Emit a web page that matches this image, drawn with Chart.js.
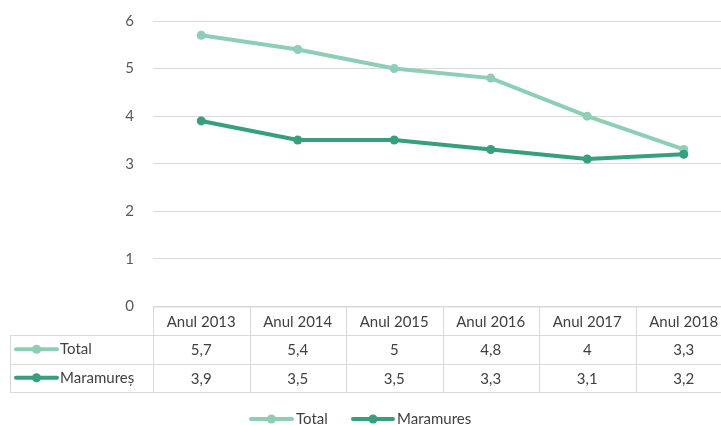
<!DOCTYPE html>
<html>
<head>
<meta charset="utf-8">
<script src="https://cdn.jsdelivr.net/npm/chart.js@4/dist/chart.umd.min.js"></script>
<style>
html,body{margin:0;padding:0;background:#fff;overflow:hidden;width:721px;height:425px;}
#wrap{width:740px;height:425px;}
</style>
</head>
<body>
<div id="wrap"><canvas id="c" width="740" height="425"></canvas></div>
<script>
const categories = ['Anul 2013','Anul 2014','Anul 2015','Anul 2016','Anul 2017','Anul 2018'];
const totalValues = [5.7, 5.4, 5, 4.8, 4, 3.3];
const maramuresValues = [3.9, 3.5, 3.5, 3.3, 3.1, 3.2];
const tableRowLabels = ['Total', 'Maramureș'];
const legendLabels = ['Total', 'Maramures'];
const yTickValues = [0, 1, 2, 3, 4, 5, 6];

const COL_TOTAL = '#8dcfb4';
const COL_MARA = '#35a07b';
const GRID = '#d9d9d9';
const TEXT = '#404040';
const FONT = 'Lato, "Open Sans", sans-serif';

function fmt(v){ return String(v).replace('.', ','); }

function drawMarker(ctx, x1, x2, y, color){
  ctx.save();
  ctx.strokeStyle = color; ctx.lineWidth = 4; ctx.lineCap = 'round';
  ctx.beginPath(); ctx.moveTo(x1, y); ctx.lineTo(x2, y); ctx.stroke();
  ctx.fillStyle = color;
  ctx.beginPath(); ctx.arc((x1 + x2) / 2, y, 4.5, 0, Math.PI * 2); ctx.fill();
  ctx.restore();
}

const tablePlugin = {
  id: 'dataTable',
  afterDraw(chart){
    const ctx = chart.ctx;
    const ca = chart.chartArea;
    const xs = chart.scales.x;
    const n = categories.length;
    const colW = (ca.right - ca.left) / n;
    const top = ca.bottom;
    const rowH = 28.5;
    const leftX = 10;
    const series = [
      {label: tableRowLabels[0], data: totalValues, color: COL_TOTAL},
      {label: tableRowLabels[1], data: maramuresValues, color: COL_MARA}
    ];
    ctx.save();
    ctx.strokeStyle = GRID; ctx.lineWidth = 1;
    ctx.beginPath();
    ctx.moveTo(ca.left, top + 0.5); ctx.lineTo(ca.right, top + 0.5);
    for (let r = 1; r <= 3; r++) {
      const y = Math.round(top + r * rowH) + 0.5;
      ctx.moveTo(leftX, y); ctx.lineTo(ca.right, y);
    }
    for (let i = 0; i <= n; i++) {
      const x = Math.round(ca.left + i * colW) + 0.5;
      ctx.moveTo(x, top); ctx.lineTo(x, top + 3 * rowH);
    }
    ctx.moveTo(leftX + 0.5, top + rowH); ctx.lineTo(leftX + 0.5, top + 3 * rowH);
    ctx.stroke();

    ctx.fillStyle = TEXT;
    ctx.font = '15px ' + FONT;
    ctx.textAlign = 'center'; ctx.textBaseline = 'middle';
    categories.forEach((c, i) => {
      ctx.fillText(c, xs.getPixelForValue(i), top + rowH / 2 + 1);
    });
    series.forEach((s, r) => {
      const yc = top + (r + 1.5) * rowH + 1;
      s.data.forEach((v, i) => {
        ctx.textAlign = 'center';
        ctx.fillText(fmt(v), xs.getPixelForValue(i), yc);
      });
      drawMarker(ctx, 16, 57, yc - 1, s.color);
      ctx.fillStyle = TEXT;
      ctx.textAlign = 'left';
      ctx.fillText(s.label, 60, yc - 1);
    });

    // bottom legend
    const ly = 419;
    drawMarker(ctx, 251, 292, ly, COL_TOTAL);
    ctx.fillStyle = TEXT; ctx.textAlign = 'left';
    ctx.fillText(legendLabels[0], 296, ly);
    drawMarker(ctx, 353, 393, ly, COL_MARA);
    ctx.fillStyle = TEXT;
    ctx.fillText(legendLabels[1], 397, ly);
    ctx.restore();
  }
};

new Chart(document.getElementById('c'), {
  type: 'line',
  data: {
    labels: categories,
    datasets: [
      {label: legendLabels[0], data: totalValues, borderColor: COL_TOTAL, backgroundColor: COL_TOTAL,
       pointBackgroundColor: COL_TOTAL, pointBorderColor: COL_TOTAL, borderWidth: 4, pointRadius: 4.5,
       pointBorderWidth: 0, tension: 0, order: 1},
      {label: legendLabels[1], data: maramuresValues, borderColor: COL_MARA, backgroundColor: COL_MARA,
       pointBackgroundColor: COL_MARA, pointBorderColor: COL_MARA, borderWidth: 4, pointRadius: 4.5,
       pointBorderWidth: 0, tension: 0, order: 0}
    ]
  },
  options: {
    responsive: false,
    animation: false,
    layout: {padding: {top: 21, right: 8, bottom: 33, left: 0}},
    plugins: {legend: {display: false}, tooltip: {enabled: false}},
    scales: {
      x: {
        type: 'category',
        offset: true,
        grid: {display: false},
        border: {display: false},
        ticks: {display: false},
        afterFit(s){ s.height = 85.5; }
      },
      y: {
        min: 0, max: 6,
        afterBuildTicks(s){ s.ticks = yTickValues.map(v => ({value: v})); },
        grid: {color: GRID, drawTicks: false, lineWidth: 1},
        border: {display: false},
        ticks: {color: '#595959', font: {family: FONT, size: 15}, padding: 19},
        afterFit(s){ s.width = 153; s.paddingTop = 0; s.paddingBottom = 0; }
      }
    }
  },
  plugins: [tablePlugin]
});
</script>
</body>
</html>
